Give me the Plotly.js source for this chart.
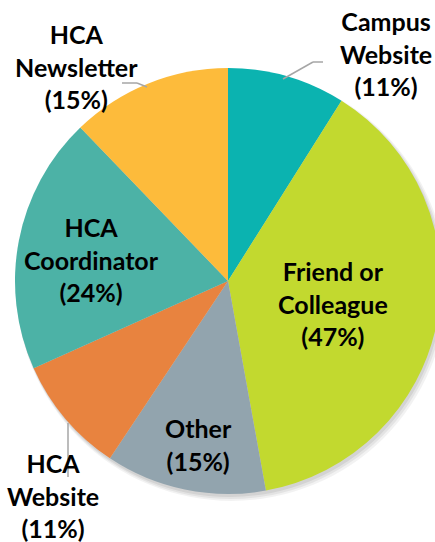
<!DOCTYPE html>
<html>
<head>
<meta charset="utf-8">
<script src="https://cdn.plot.ly/plotly-3.0.1.min.js"></script>
<style>
html,body{margin:0;padding:0;overflow:hidden;background:#fff;width:435px;height:542px;}
#chart{width:456px;height:542px;}
</style>
</head>
<body>
<div id="chart"></div>
<script>
// ---- data ----
const categories = ["Campus Website", "Friend or Colleague", "Other", "HCA Website", "HCA Coordinator", "HCA Newsletter"];
const labelLines = ["Campus<br>Website", "Friend or<br>Colleague", "Other", "HCA<br>Website", "HCA<br>Coordinator", "HCA<br>Newsletter"];
const percents = [11, 47, 15, 11, 24, 15];
const colors = ["#0BB3B0", "#C2D92F", "#92A4AE", "#E8833F", "#4CB2A6", "#FDBB3B"];

// ---- layout geometry (pixels) ----
const W = 456, H = 542;
const cx = 228, cy = 281, R = 213;
// label centres (pixels)
const labelPos = [[386, 54], [333, 303], [198, 444], [53, 495], [91, 259], [76, 66]];
// leader lines (pixels)
const leaders = [
  [[283, 79], [313, 62], [323, 62]],
  null, null,
  [[68, 423], [68, 477]],
  null,
  [[147, 87], [137, 83], [122, 83]]
];

const px = x => x / W;
const py = y => 1 - y / H;

const annotations = categories.map((c, i) => ({
  x: px(labelPos[i][0]), y: py(labelPos[i][1]), xref: 'paper', yref: 'paper',
  xanchor: 'center', yanchor: 'middle', align: 'center', showarrow: false,
  text: labelLines[i] + '<br>(' + percents[i] + '%)',
  font: {family: 'Lato, sans-serif', size: 25, color: '#000000', weight: 700}
}));

const shapes = [];
// soft shadow under the pie
[[6, 0.05], [4, 0.06], [2, 0.07]].forEach(s => {
  const d = s[0];
  shapes.push({type: 'circle', xref: 'paper', yref: 'paper', layer: 'below',
    x0: px(cx - R + 1), x1: px(cx + R + d), y0: py(cy + R + d + 1), y1: py(cy - R + 2),
    fillcolor: 'rgba(0,0,0,' + s[1] + ')', line: {width: 0}});
});
leaders.forEach(l => {
  if (!l) return;
  for (let k = 0; k < l.length - 1; k++) {
    shapes.push({type: 'line', xref: 'paper', yref: 'paper',
      x0: px(l[k][0]), y0: py(l[k][1]), x1: px(l[k+1][0]), y1: py(l[k+1][1]),
      line: {color: '#A6A6A6', width: 1.5}, layer: 'above'});
  }
});

const trace = {
  type: 'pie',
  labels: categories,
  values: percents,
  sort: false,
  direction: 'clockwise',
  rotation: 0,
  textinfo: 'none',
  hoverinfo: 'label+value',
  marker: {colors: colors, line: {width: 0}},
  domain: {x: [0, 1], y: [py(cy + R), py(cy - R)]},
  showlegend: false
};

Plotly.newPlot('chart', [trace], {
  width: W, height: H,
  margin: {l: 0, r: 0, t: 0, b: 0},
  paper_bgcolor: '#ffffff',
  plot_bgcolor: 'rgba(0,0,0,0)',
  showlegend: false,
  annotations: annotations,
  shapes: shapes
}, {displayModeBar: false, staticPlot: true});
</script>
</body>
</html>
